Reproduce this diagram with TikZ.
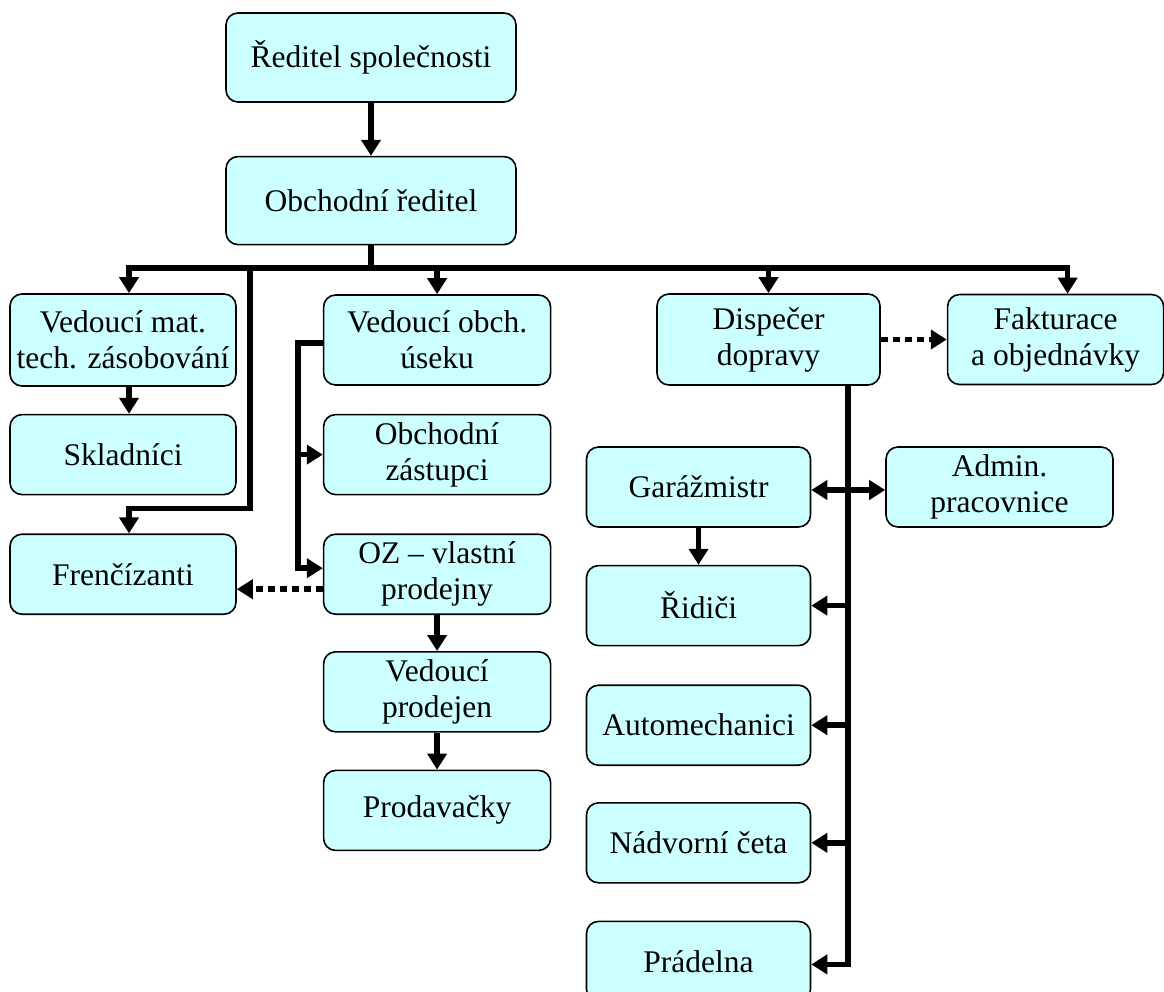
\documentclass[tikz,border=0pt]{standalone}
\usepackage{fontspec}
\setmainfont{Liberation Serif}
\usepackage{xcolor}
\usepackage{tikz}
\usetikzlibrary{positioning,calc,arrows.meta}

\definecolor{boxfill}{HTML}{CCFFFF}

\begin{document}
\begin{tikzpicture}[
    x=1pt,y=-1pt,
    box/.style={rectangle,draw,line width=1.6pt,rounded corners=12pt,fill=boxfill,
      minimum width=226pt,minimum height=80pt,inner sep=4pt,align=center,
      font=\fontsize{31.5}{36}\selectfont},
    line/.style={line width=5.5pt},
    arrow/.style={-{Triangle[length=16pt,width=19pt]},line width=5.5pt},
    dblarrow/.style={{Triangle[length=16pt,width=19pt]}-{Triangle[length=16pt,width=19pt]},line width=5.5pt},
    dotarrow/.style={-{Triangle[length=16pt,width=19pt]},line width=5.5pt,dash pattern=on 7pt off 5pt}
    ]

    \useasboundingbox (0,0) rectangle (1164,991);

    \node[box,minimum width=290pt,minimum height=89pt] (director) at (371,57.5) {Ředitel společnosti};
    \node[box,minimum width=290pt,minimum height=88pt,below=53pt of director] (salesdir) {Obchodní ředitel};
    \coordinate (bus) at (371,268);

    % left column
    \node[box,minimum height=92pt] (matlead) at (123,340) {Vedoucí mat.\\tech. zásobování};
    \node[box,below=27pt of matlead] (storekeepers) {Skladníci};
    \node[box,below=38pt of storekeepers] (franchise) {Frenčízanti};

    % middle column
    \node[box,minimum width=227pt,minimum height=90pt,right=86pt of matlead] (saleslead) {Vedoucí obch.\\úseku};
    \node[box,minimum width=227pt,below=28pt of saleslead] (reps) {Obchodní\\zástupci};
    \node[box,minimum width=227pt,below=38pt of reps] (ownshops) {OZ – vlastní\\prodejny};
    \node[box,minimum width=227pt,below=36pt of ownshops] (shopmgr) {Vedoucí\\prodejen};
    \node[box,minimum width=227pt,below=37pt of shopmgr] (shopstaff) {Prodavačky};

    % right part
    \node[box,minimum width=223pt,minimum height=91pt] (dispatch) at (768.5,339.5) {Dispečer\\dopravy};
    \node[box,minimum width=216pt,minimum height=90pt,right=66pt of dispatch] (billing) {Fakturace\\a objednávky};
    \node[box,minimum width=224pt] (garage) at (698.5,487) {Garážmistr};
    \node[box,minimum width=227pt] (admin) at (999.5,487) {Admin.\\pracovnice};
    \node[box,minimum width=224pt,below=37pt of garage] (drivers) {Řidiči};
    \node[box,minimum width=224pt,below=38pt of drivers] (mechanics) {Automechanici};
    \node[box,minimum width=224pt,below=36pt of mechanics] (yard) {Nádvorní četa};
    \node[box,minimum width=224pt,below=37pt of yard] (laundry) {Prádelna};

    \draw[arrow] (director)--(salesdir);
    \draw[line] (salesdir.south)--(bus);
    \draw[arrow] (bus) -| ([xshift=6pt]matlead.north);
    \draw[arrow] (bus) -| ([xshift=12pt]billing.north);
    \draw[arrow] (bus -| saleslead.north)--(saleslead.north);
    \draw[arrow] (bus -| dispatch.north)--(dispatch.north);

    \draw[arrow] ([xshift=6pt]matlead.south)--([xshift=6pt]storekeepers.north);
    \draw[arrow] (bus -| 250,0) |- ([shift={(6pt,25pt)}]franchise.north) -- ([xshift=6pt]franchise.north);

    \draw[arrow] ([yshift=-3pt]saleslead.west) -- ++(-25,0) coordinate (branch) |- ([yshift=6pt]ownshops.west);
    \draw[arrow] (branch |- reps.west)--(reps.west);
    \draw[dotarrow] ([yshift=-15pt]ownshops.west)--([yshift=-15pt]franchise.east);
    \draw[arrow] (ownshops)--(shopmgr);
    \draw[arrow] (shopmgr)--(shopstaff);

    \draw[dotarrow] (dispatch.east)--(billing.west);
    \draw[arrow] ([xshift=79.5pt]dispatch.south) coordinate (trunk) |- ([yshift=-3pt]laundry.east);
    \foreach \n in {drivers,mechanics,yard}
      \draw[arrow] (trunk |- \n.east)--(\n.east);
    \draw[dblarrow] ([yshift=-3pt]garage.east)--([yshift=-3pt]admin.west);
    \draw[arrow] (garage)--(drivers);

  \end{tikzpicture}
\end{document}
